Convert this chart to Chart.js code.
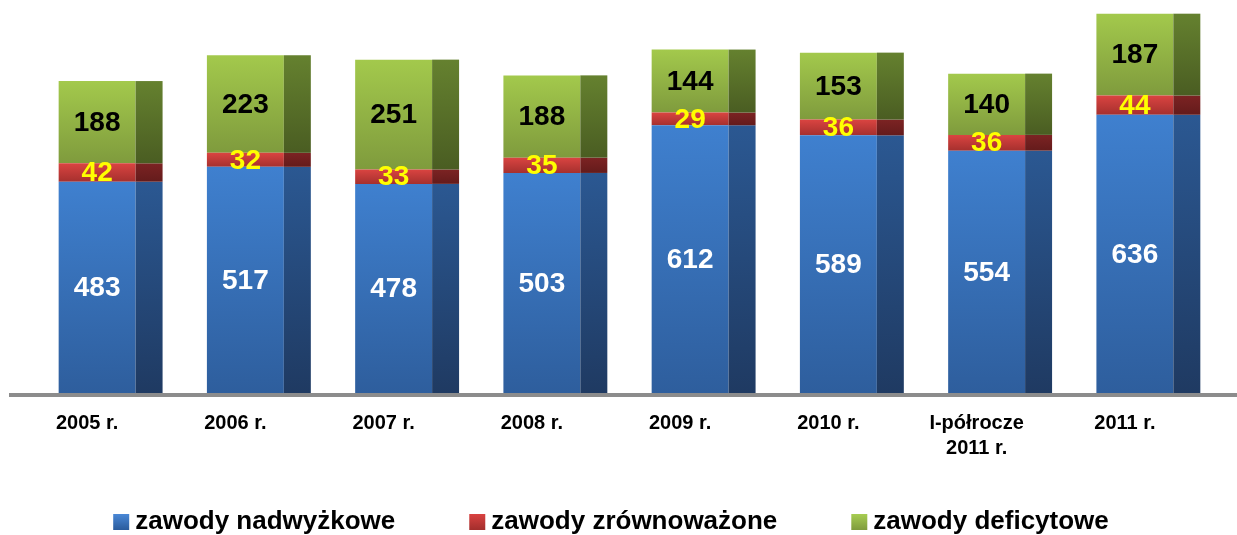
<!DOCTYPE html>
<html>
<head>
<meta charset="utf-8">
<script src="https://cdn.jsdelivr.net/npm/chart.js@4.4.1/dist/chart.umd.min.js"></script>
<style>
  html, body { margin: 0; padding: 0; background: #ffffff; }
  #wrap { width: 1237px; height: 535px; position: relative; }
</style>
</head>
<body>
<div id="wrap"><canvas id="c" width="1237" height="535"></canvas></div>
<script>
// ---- data ----
const categories = ['2005 r.', '2006 r.', '2007 r.', '2008 r.', '2009 r.', '2010 r.', ['I-półrocze', '2011 r.'], '2011 r.'];
const nadwyzkowe = [483, 517, 478, 503, 612, 589, 554, 636];
const zrownowazone = [42, 32, 33, 35, 29, 36, 36, 44];
const deficytowe = [188, 223, 251, 188, 144, 153, 140, 187];
const seriesNames = ['zawody nadwyżkowe', 'zawody zrównoważone', 'zawody deficytowe'];
const yMax = 880;

// ---- styles ----
const FONT = '"Liberation Sans", Arial, sans-serif';
const series = [nadwyzkowe, zrownowazone, deficytowe];
const frontCols = [['#3f80cf', '#2e5e9d'], ['#da4441', '#a6302e'], ['#a3c94c', '#7f9b3d']];
const sideCols = [['#2b5892', '#1f3a62'], ['#7c2323', '#641b1b'], ['#65812f', '#4a5d22']];
const labelCols = ['#ffffff', '#ffff00', '#000000'];
const legendCols = [['#4a88d6', '#2a5b9c'], ['#d94240', '#a22e2c'], ['#a7cd52', '#7f9b3d']];
const SIDE_RATIO = 27 / 77;

function segBounds(chart, ds, i) {
  let start = 0;
  for (let k = 0; k < ds; k++) start += series[k][i];
  const end = start + series[ds][i];
  const y = chart.scales.y;
  return [y.getPixelForValue(end), y.getPixelForValue(start)];
}

function frontFill(ds) {
  return function (ctx) {
    const chart = ctx.chart;
    if (ctx.type !== 'data' || !chart.chartArea || !chart.scales.y) return frontCols[ds][0];
    const [t, b] = segBounds(chart, ds, ctx.dataIndex);
    const g = chart.ctx.createLinearGradient(0, t, 0, b);
    g.addColorStop(0, frontCols[ds][0]);
    g.addColorStop(1, frontCols[ds][1]);
    return g;
  };
}

const datasets = series.map((vals, ds) => ({
  label: seriesNames[ds],
  data: vals,
  backgroundColor: frontFill(ds),
  borderWidth: 0,
  barPercentage: 0.519,
  categoryPercentage: 1.0
}));

const sidePlugin = {
  id: 'sideFaces',
  afterDatasetsDraw(chart) {
    const c = chart.ctx;
    chart.data.datasets.forEach((d, ds) => {
      const meta = chart.getDatasetMeta(ds);
      meta.data.forEach((el) => {
        const sx = el.x + el.width / 2;
        const sw = el.width * SIDE_RATIO;
        const top = Math.min(el.y, el.base), bot = Math.max(el.y, el.base);
        const g = c.createLinearGradient(0, top, 0, bot);
        g.addColorStop(0, sideCols[ds][0]);
        g.addColorStop(1, sideCols[ds][1]);
        c.save();
        c.fillStyle = g;
        c.fillRect(sx, top, sw, bot - top);
        c.restore();
      });
    });
    // axis line
    const y0 = chart.scales.y.getPixelForValue(0);
    c.save();
    c.strokeStyle = '#8c8c8c';
    c.lineWidth = 4;
    c.beginPath();
    c.moveTo(9, y0 + 2);
    c.lineTo(chart.width, y0 + 2);
    c.stroke();
    c.restore();
    // value labels
    chart.data.datasets.forEach((d, ds) => {
      const meta = chart.getDatasetMeta(ds);
      meta.data.forEach((el, i) => {
        c.save();
        c.font = 'bold 28px ' + FONT;
        c.fillStyle = labelCols[ds];
        c.textAlign = 'center';
        c.textBaseline = 'middle';
        c.fillText(String(d.data[i]), el.x, (el.y + el.base) / 2 + 1);
        c.restore();
      });
    });
  }
};

const legendPlugin = {
  id: 'bottomLegend',
  afterDraw(chart) {
    const c = chart.ctx;
    c.save();
    c.font = 'bold 26px ' + FONT;
    const box = 16, textGap = 22, itemGap = 74;
    const widths = chart.data.datasets.map(d => c.measureText(d.label).width);
    let total = widths.reduce((a, w) => a + textGap + w, 0) + itemGap * (widths.length - 1);
    let x = 611 - total / 2;
    const cy = 522;
    chart.data.datasets.forEach((d, ds) => {
      const g = c.createLinearGradient(0, cy - box / 2, 0, cy + box / 2);
      g.addColorStop(0, legendCols[ds][0]);
      g.addColorStop(1, legendCols[ds][1]);
      c.fillStyle = g;
      c.fillRect(x, cy - box / 2, box, box);
      c.fillStyle = '#000000';
      c.textAlign = 'left';
      c.textBaseline = 'middle';
      c.fillText(d.label, x + textGap, cy);
      x += textGap + widths[ds] + itemGap;
    });
    c.restore();
  }
};

new Chart(document.getElementById('c'), {
  type: 'bar',
  data: { labels: categories, datasets: datasets },
  options: {
    responsive: false,
    animation: false,
    devicePixelRatio: 1,
    layout: { padding: { left: 23, right: 28, top: 8, bottom: 0 } },
    plugins: { legend: { display: false }, tooltip: { enabled: false } },
    scales: {
      x: {
        stacked: true,
        grid: { display: false, drawTicks: false },
        border: { display: false },
        ticks: {
          color: '#000000',
          font: { family: FONT, size: 20, weight: 'bold', lineHeight: 1.25 },
          padding: 18,
          labelOffset: -10,
          maxRotation: 0,
          autoSkip: false
        },
        afterFit(scale) { scale.height = 142; }
      },
      y: {
        stacked: true,
        display: false,
        min: 0,
        max: yMax
      }
    }
  },
  plugins: [sidePlugin, legendPlugin]
});
</script>
</body>
</html>
